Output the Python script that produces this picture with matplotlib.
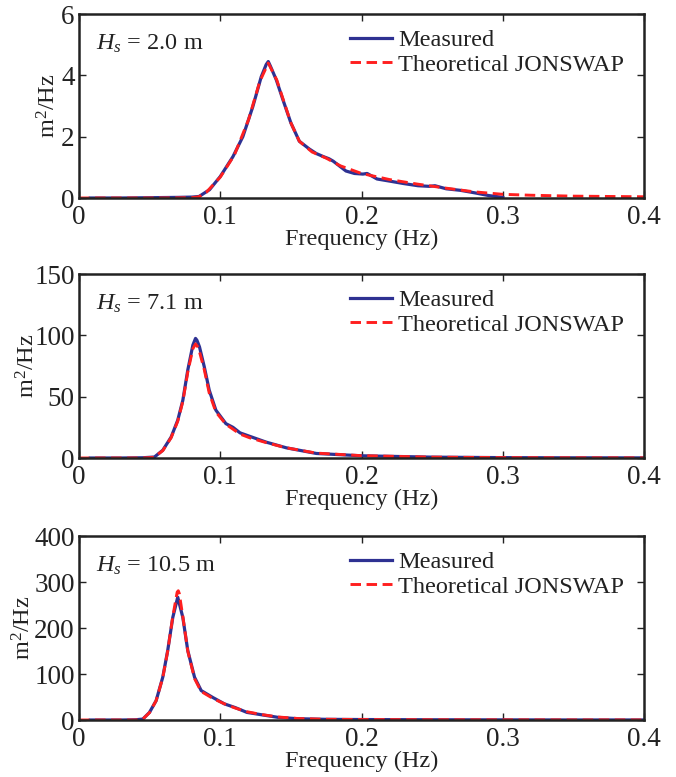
import matplotlib
matplotlib.use("Agg")
import matplotlib.pyplot as plt

plt.rcParams['font.family'] = ['Liberation Serif', 'DejaVu Serif']
plt.rcParams['mathtext.fontset'] = 'custom'
plt.rcParams['mathtext.rm'] = 'Liberation Serif'
plt.rcParams['mathtext.it'] = 'Liberation Serif:italic'

# ---- data ----
hs_labels = ["2.0", "7.1", "10.5"]
legend_labels = ["Measured", "Theoretical JONSWAP"]
x_ticks = [0, 0.1, 0.2, 0.3, 0.4]
x_tick_labels = ["0", "0.1", "0.2", "0.3", "0.4"]
y_ticks_1 = [0, 2, 4, 6]
y_ticks_2 = [0, 50, 100, 150]
y_ticks_3 = [0, 100, 200, 300, 400]

f1_meas = [0.008, 0.03, 0.05, 0.07, 0.08, 0.085, 0.0924, 0.1, 0.109, 0.116, 0.123, 0.129,
           0.1325, 0.134, 0.1355, 0.1397, 0.1444, 0.150, 0.156, 0.163, 0.168, 0.173, 0.177,
           0.180, 0.189, 0.195, 0.201, 0.204, 0.211, 0.22, 0.23, 0.24, 0.248, 0.252, 0.26,
           0.27, 0.28, 0.29, 0.3]
v1_meas = [0, 0, 0.01, 0.02, 0.03, 0.05, 0.27, 0.7, 1.35, 2.0, 2.97, 3.95,
           4.35, 4.45, 4.3, 3.85, 3.2, 2.45, 1.85, 1.6, 1.45, 1.35, 1.28,
           1.2, 0.88, 0.8, 0.78, 0.8, 0.62, 0.55, 0.47, 0.4, 0.38, 0.4, 0.3,
           0.25, 0.17, 0.08, 0.02]
f1_th = [0, 0.06, 0.08, 0.085, 0.09, 0.1, 0.11, 0.12, 0.128, 0.134, 0.14, 0.145, 0.15,
         0.156, 0.165, 0.175, 0.185, 0.2, 0.22, 0.24, 0.26, 0.28, 0.3, 0.32, 0.35, 0.4]
v1_th = [0, 0, 0.01, 0.04, 0.18, 0.68, 1.4, 2.55, 3.8, 4.4, 3.85, 3.15, 2.45,
         1.85, 1.5, 1.3, 1.05, 0.8, 0.6, 0.45, 0.32, 0.2, 0.12, 0.09, 0.06, 0.04]

f2_meas = [0.008, 0.03, 0.045, 0.0534, 0.0593, 0.0652, 0.0699, 0.0735, 0.077, 0.0806,
           0.0825, 0.0835, 0.0853, 0.0887, 0.0922, 0.0969, 0.104, 0.109, 0.114, 0.1208,
           0.1326, 0.1468, 0.168, 0.2, 0.25, 0.3, 0.35, 0.4]
v2_meas = [0, 0, 0.2, 0.8, 6.3, 17, 30.8, 47, 71.6, 92,
           97.5, 96, 90.6, 74.3, 55.3, 39, 28, 25, 20.5, 17.7,
           12.9, 8.3, 3.7, 1.8, 0.7, 0.3, 0.15, 0.1]
f2_th = [0, 0.045, 0.053, 0.0593, 0.0652, 0.0699, 0.0735, 0.077, 0.0806, 0.0825, 0.0845,
         0.0887, 0.0922, 0.0969, 0.104, 0.114, 0.1208, 0.1326, 0.1468, 0.168, 0.2, 0.25,
         0.3, 0.35, 0.4]
v2_th = [0, 0, 0.5, 6, 16.5, 30, 46, 70, 89, 93, 90,
         72, 53, 37.5, 27.5, 19.5, 16.5, 12.5, 8.3, 4, 1.9, 0.7,
         0.3, 0.15, 0.1]

f3_meas = [0.008, 0.03, 0.04, 0.0452, 0.0499, 0.0546, 0.0593, 0.0628, 0.0664, 0.0699,
           0.0735, 0.077, 0.0818, 0.0865, 0.0947, 0.103, 0.1106, 0.1189, 0.129, 0.141,
           0.155, 0.174, 0.2, 0.25, 0.3, 0.35, 0.4]
v3_meas = [0, 0, 0.5, 2, 16.5, 42, 93, 151, 223, 267,
           223, 151, 93, 64, 49, 35, 27, 16.5, 11.5, 5.7,
           2.8, 1.5, 1.0, 0.5, 0.3, 0.1, 0.1]
f3_th = [0, 0.04, 0.0452, 0.0499, 0.0546, 0.0593, 0.0628, 0.0664, 0.0695, 0.0703, 0.071,
         0.0735, 0.077, 0.0818, 0.0865, 0.0947, 0.103, 0.1106, 0.1189, 0.129, 0.141,
         0.155, 0.174, 0.2, 0.25, 0.3, 0.35, 0.4]
v3_th = [0, 0, 2, 16, 42, 92, 150, 225, 278, 281, 275,
         225, 150, 90, 62, 47, 35, 26, 18, 12, 6.5,
         3.2, 1.6, 1.0, 0.5, 0.3, 0.15, 0.1]

panels = [
    (f1_meas, v1_meas, f1_th, v1_th, y_ticks_1, hs_labels[0]),
    (f2_meas, v2_meas, f2_th, v2_th, y_ticks_2, hs_labels[1]),
    (f3_meas, v3_meas, f3_th, v3_th, y_ticks_3, hs_labels[2]),
]

W, H = 676, 777
fig = plt.figure(figsize=(W / 100, H / 100), dpi=100)
boxes = [(79, 14, 644, 198), (79, 274, 644, 458), (79, 536, 644, 720)]
ylab_x = [-0.053, -0.090, -0.097]

fs = 17.5
tfs = 19.5
tc = '#222222'
blue = '#2e3192'
red = '#ff1f1f'

for (fm, vm, ft, vt, yt, hs), (l, t, r, b), yx in zip(panels, boxes, ylab_x):
    ax = fig.add_axes([l / W, 1 - b / H, (r - l) / W, (b - t) / H])
    ax.plot(fm, vm, color=blue, lw=2.3, label=legend_labels[0])
    ax.plot(ft, vt, color=red, lw=2.1, dashes=(3.6, 1.9), label=legend_labels[1])
    ax.set_xlim(0, 0.4)
    ax.set_ylim(yt[0], yt[-1])
    ax.set_xticks(x_ticks)
    ax.set_xticklabels(x_tick_labels)
    ax.set_yticks(yt)
    ax.set_yticklabels([str(v) for v in yt])
    ax.tick_params(direction='in', length=5, width=1.0, top=True, right=True,
                   labelsize=tfs, pad=3, colors=tc, labelcolor=tc)
    ax.tick_params(axis='x', pad=5)
    for s in ax.spines.values():
        s.set_linewidth(1.8)
        s.set_color(tc)
    ax.set_xlabel("Frequency (Hz)", fontsize=fs, color=tc)
    ax.xaxis.set_label_coords(0.5, -0.168)
    ax.set_ylabel("m$^2$/Hz", fontsize=fs, color=tc, va='center')
    ax.yaxis.set_label_coords(yx, 0.5)
    ax.text(0.03, 0.84, "$H_s$ = " + hs + " m", transform=ax.transAxes,
            fontsize=fs, va='center', ha='left', color=tc)
    leg = ax.legend(loc='upper left', bbox_to_anchor=(0.453, 0.997), frameon=False,
                    fontsize=fs, handlelength=1.75, handletextpad=0.25,
                    labelspacing=0.1, borderaxespad=0.2)
    for txt in leg.get_texts():
        txt.set_color(tc)

fig.savefig("out.png", dpi=100)
